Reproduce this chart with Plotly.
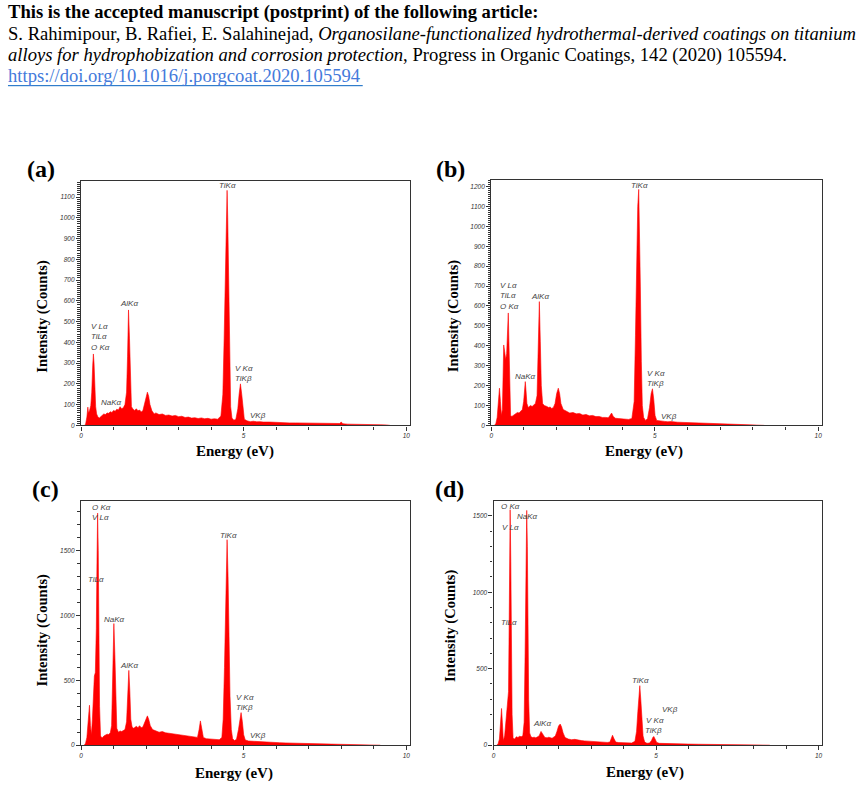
import plotly.graph_objects as go

W, H = 860, 790

# ---------------- data (energy in eV, intensity in counts) ----------------
spectrum_a = [
    (0.10, 0), (0.14, 5), (0.18, 40), (0.21, 88), (0.23, 60), (0.26, 70), (0.30, 95), (0.33, 160),
    (0.36, 290), (0.38, 344), (0.40, 300), (0.42, 190), (0.45, 90), (0.48, 55), (0.52, 40), (0.56, 35),
    (0.60, 42), (0.65, 48), (0.70, 55), (0.75, 52), (0.80, 60), (0.85, 58), (0.90, 66), (0.95, 62),
    (1.00, 72), (1.05, 68), (1.10, 78), (1.15, 74), (1.20, 90), (1.25, 80), (1.30, 85), (1.35, 100),
    (1.40, 160), (1.43, 330), (1.46, 556), (1.49, 420), (1.52, 180), (1.55, 90), (1.60, 78), (1.65, 72),
    (1.70, 80), (1.75, 70), (1.80, 74), (1.85, 65), (1.90, 70), (1.95, 100), (2.00, 140), (2.04, 160),
    (2.08, 140), (2.12, 100), (2.18, 70), (2.25, 55), (2.30, 60), (2.40, 52), (2.50, 55), (2.60, 48),
    (2.70, 50), (2.80, 45), (2.90, 48), (3.00, 42), (3.10, 44), (3.20, 38), (3.30, 40), (3.40, 35),
    (3.50, 37), (3.60, 33), (3.70, 36), (3.80, 32), (3.90, 34), (4.00, 30), (4.10, 32), (4.20, 30),
    (4.30, 45), (4.36, 150), (4.40, 420), (4.44, 800), (4.47, 1050), (4.49, 1132), (4.51, 1000), (4.54, 650),
    (4.57, 300), (4.60, 90), (4.64, 35), (4.70, 25), (4.76, 30), (4.82, 80), (4.86, 150), (4.90, 200),
    (4.94, 150), (4.98, 70), (5.02, 30), (5.10, 22), (5.20, 18), (5.30, 20), (5.40, 17), (5.50, 18),
    (5.60, 16), (5.80, 16), (6.00, 14), (6.20, 14), (6.40, 12), (6.60, 12), (6.80, 11), (7.00, 10),
    (7.20, 10), (7.40, 9), (7.60, 8), (7.80, 8), (7.95, 9), (8.00, 16), (8.05, 8), (8.20, 6),
    (8.40, 6), (8.60, 5), (8.80, 4), (9.00, 4), (9.20, 3), (9.40, 2), (9.50, 0),
]

spectrum_b = [
    (0.10, 0), (0.14, 10), (0.18, 40), (0.22, 120), (0.25, 187), (0.28, 120), (0.31, 50), (0.34, 80),
    (0.36, 250), (0.38, 404), (0.41, 370), (0.44, 330), (0.47, 360), (0.50, 480), (0.52, 565), (0.54, 420),
    (0.56, 150), (0.59, 50), (0.63, 45), (0.70, 55), (0.75, 60), (0.80, 65), (0.85, 62), (0.90, 72),
    (0.95, 80), (0.99, 120), (1.02, 190), (1.04, 220), (1.06, 180), (1.09, 110), (1.13, 90), (1.20, 100),
    (1.25, 95), (1.30, 105), (1.35, 110), (1.40, 150), (1.43, 330), (1.47, 622), (1.50, 420), (1.53, 200),
    (1.57, 110), (1.62, 100), (1.70, 95), (1.75, 90), (1.80, 92), (1.85, 85), (1.90, 90), (1.95, 110),
    (2.00, 160), (2.05, 187), (2.09, 160), (2.13, 110), (2.20, 80), (2.30, 70), (2.40, 62), (2.50, 65),
    (2.60, 58), (2.70, 60), (2.80, 52), (2.90, 55), (3.00, 48), (3.10, 50), (3.20, 44), (3.30, 45),
    (3.40, 40), (3.50, 40), (3.58, 38), (3.63, 50), (3.68, 62), (3.73, 45), (3.80, 36), (3.90, 34),
    (4.00, 33), (4.10, 32), (4.20, 30), (4.30, 35), (4.37, 120), (4.41, 450), (4.45, 850), (4.48, 1100),
    (4.51, 1186), (4.53, 1050), (4.56, 700), (4.59, 320), (4.62, 100), (4.66, 40), (4.72, 25), (4.78, 35),
    (4.84, 90), (4.89, 160), (4.93, 184), (4.97, 130), (5.01, 50), (5.06, 25), (5.15, 22), (5.30, 20),
    (5.40, 18), (5.50, 19), (5.70, 16), (5.90, 15), (6.10, 13), (6.30, 13), (6.50, 11), (6.70, 11),
    (6.90, 10), (7.10, 9), (7.30, 8), (7.50, 7), (7.70, 6), (7.90, 5), (8.10, 5), (8.30, 3), (8.35, 0),
]

spectrum_c = [
    (0.10, 0), (0.14, 15), (0.18, 60), (0.22, 180), (0.26, 308), (0.29, 150), (0.32, 80), (0.35, 200),
    (0.38, 420), (0.41, 533), (0.44, 560), (0.47, 900), (0.49, 1400), (0.51, 1790), (0.53, 1500), (0.55, 800),
    (0.57, 300), (0.60, 70), (0.65, 55), (0.70, 70), (0.75, 75), (0.80, 85), (0.85, 82), (0.90, 95),
    (0.94, 150), (0.98, 500), (1.01, 938), (1.04, 700), (1.07, 300), (1.10, 130), (1.15, 100), (1.20, 110),
    (1.25, 105), (1.30, 115), (1.35, 120), (1.40, 180), (1.43, 350), (1.47, 577), (1.50, 420), (1.53, 200),
    (1.57, 140), (1.62, 130), (1.70, 145), (1.75, 135), (1.80, 150), (1.85, 135), (1.90, 140), (1.95, 170),
    (2.00, 210), (2.04, 226), (2.08, 200), (2.13, 150), (2.20, 120), (2.30, 110), (2.40, 100), (2.50, 105),
    (2.60, 95), (2.70, 92), (2.80, 88), (2.90, 85), (3.00, 80), (3.10, 78), (3.20, 72), (3.30, 72),
    (3.40, 65), (3.50, 62), (3.58, 60), (3.63, 120), (3.67, 187), (3.71, 130), (3.76, 60), (3.85, 50),
    (3.95, 48), (4.05, 45), (4.15, 44), (4.25, 42), (4.33, 60), (4.37, 200), (4.41, 600), (4.45, 1150),
    (4.49, 1585), (4.52, 1300), (4.55, 800), (4.58, 380), (4.62, 120), (4.66, 50), (4.72, 35), (4.78, 45),
    (4.84, 120), (4.89, 220), (4.92, 251), (4.96, 180), (5.00, 80), (5.05, 40), (5.15, 32), (5.30, 30),
    (5.40, 28), (5.50, 26), (5.70, 24), (5.90, 21), (6.10, 19), (6.30, 17), (6.50, 15), (6.70, 14),
    (6.90, 12), (7.10, 11), (7.30, 10), (7.50, 9), (7.70, 8), (7.90, 7), (8.10, 6), (8.40, 5),
    (8.70, 4), (9.00, 3), (9.20, 0),
]

spectrum_d = [
    (0.10, 0), (0.14, 10), (0.18, 40), (0.22, 150), (0.245, 240), (0.27, 150), (0.30, 30), (0.34, 60),
    (0.38, 150), (0.42, 220), (0.46, 350), (0.48, 800), (0.50, 1350), (0.51, 1540), (0.53, 1200), (0.55, 600),
    (0.57, 200), (0.60, 45), (0.65, 40), (0.70, 55), (0.75, 50), (0.80, 58), (0.85, 55), (0.90, 62),
    (0.94, 150), (0.97, 600), (1.00, 1250), (1.02, 1535), (1.04, 1300), (1.06, 700), (1.08, 300), (1.11, 80),
    (1.15, 55), (1.20, 50), (1.25, 52), (1.30, 48), (1.35, 55), (1.40, 60), (1.46, 90), (1.52, 65),
    (1.58, 50), (1.65, 48), (1.70, 52), (1.80, 45), (1.85, 50), (1.90, 60), (1.95, 90), (2.00, 125),
    (2.05, 138), (2.09, 120), (2.14, 80), (2.20, 50), (2.30, 40), (2.40, 36), (2.50, 38), (2.60, 32),
    (2.70, 30), (2.80, 28), (2.90, 26), (3.00, 25), (3.10, 22), (3.20, 22), (3.30, 20), (3.40, 20),
    (3.50, 18), (3.58, 20), (3.63, 45), (3.66, 65), (3.70, 45), (3.76, 20), (3.85, 17), (3.95, 16),
    (4.05, 15), (4.15, 14), (4.25, 14), (4.35, 25), (4.40, 90), (4.44, 220), (4.48, 340), (4.50, 389),
    (4.53, 300), (4.56, 170), (4.60, 60), (4.65, 20), (4.72, 12), (4.80, 14), (4.86, 30), (4.90, 50),
    (4.93, 57), (4.97, 40), (5.02, 18), (5.10, 12), (5.30, 10), (5.50, 9), (5.70, 8), (6.00, 7),
    (6.30, 6), (6.60, 5), (7.00, 4), (7.40, 3), (7.80, 3), (8.20, 2), (8.50, 0),
]

# peak labels: (text, energy, counts, xanchor)
labels_a = [
    ("TiKα", 4.51, 1153, "center"), ("AlKα", 1.47, 589, "center"),
    ("V Lα<br>TiLα<br>O Kα", 0.23, 426, "left"), ("NaKα", 0.94, 112, "center"),
    ("V Kα<br>TiKβ", 4.68, 250, "left"), ("VKβ", 5.44, 48, "center"),
]
labels_b = [
    ("TiKα", 4.52, 1206, "center"), ("V Lα<br>TiLα<br>O Kα", 0.22, 649, "left"),
    ("AlKα", 1.49, 649, "center"), ("NaKα", 1.04, 248, "center"),
    ("V Kα<br>TiKβ", 4.70, 238, "left"), ("VKβ", 5.44, 45, "center"),
]
labels_c = [
    ("O Kα<br>V Lα", 0.27, 1792, "left"), ("TiLα", 0.45, 1277, "center"),
    ("NaKα", 1.04, 969, "center"), ("AlKα", 1.47, 611, "center"),
    ("TiKα", 4.53, 1618, "center"), ("V Kα<br>TiKβ", 4.71, 331, "left"),
    ("VKβ", 5.45, 77, "center"),
]
labels_d = [
    ("O Kα", 0.51, 1563, "center"), ("NaKα", 1.04, 1496, "center"),
    ("V Lα", 0.51, 1426, "center"), ("TiLα", 0.46, 802, "center"),
    ("AlKα", 1.48, 142, "center"), ("TiKα", 4.52, 422, "center"),
    ("VKβ", 5.44, 236, "center"), ("V Kα", 4.96, 164, "center"),
    ("TiKβ", 4.93, 94, "center"),
]

panel_letters = ["(a)", "(b)", "(c)", "(d)"]

header_lines = [
    "<b>This is the accepted manuscript (postprint) of the following article:</b>",
    "S. Rahimipour, B. Rafiei, E. Salahinejad, <i>Organosilane-functionalized hydrothermal-derived coatings on titanium</i>",
    "<i>alloys for hydrophobization and corrosion protection</i>, Progress in Organic Coatings, 142 (2020) 105594.",
]
doi_url = "https://doi.org/10.1016/j.porgcoat.2020.105594"

# ---------------- layout geometry (pixels) ----------------
def fx(p):
    return p / W


def fy(p):
    return 1 - p / H


panels = [
    dict(spec=spectrum_a, labels=labels_a, x0=79.3, x1=409, yt=181.7, yb=427, xmax=10.1, ymax=1177, dmaj=100, dmin=10,
         letter=(39, 170), ytitle=(41, 317), xtitle=(233.5, 453)),
    dict(spec=spectrum_b, labels=labels_b, x0=491, x1=823, yt=180.7, yb=427, xmax=10.12, ymax=1233, dmaj=100, dmin=10,
         letter=(450, 170), ytitle=(453, 317), xtitle=(644, 453)),
    dict(spec=spectrum_c, labels=labels_c, x0=79.3, x1=409, yt=502.7, yb=748, xmax=10.1, ymax=1885, dmaj=500, dmin=100,
         letter=(44, 491), ytitle=(41, 632), xtitle=(233, 776)),
    dict(spec=spectrum_d, labels=labels_d, x0=493.3, x1=823.3, yt=503.3, yb=748, xmax=10.12, ymax=1594, dmaj=500, dmin=100,
         letter=(449, 491), ytitle=(450, 628), xtitle=(645, 775)),
]

fig = go.Figure()
annotations = []
tickfont = dict(family="Liberation Sans", size=6.5, color="#333", style="italic")
labfont = dict(family="Liberation Sans", size=8, color="#444", style="italic")
axcol = "#333"

for i, p in enumerate(panels):
    n = "" if i == 0 else str(i + 1)
    E = [e for e, c in p["spec"]]
    C = [c for e, c in p["spec"]]
    fig.add_trace(go.Scatter(
        x=E, y=C, mode="lines", fill="tozeroy", fillcolor="#FF0000",
        line=dict(color="#FF0000", width=0.6), xaxis="x" + n, yaxis="y" + n,
        hoverinfo="skip", showlegend=False,
    ))
    fig.layout["xaxis" + n] = dict(
        domain=[fx(p["x0"]), fx(p["x1"])], anchor="y" + n, range=[0, p["xmax"]],
        tickmode="linear", tick0=0, dtick=5, ticks="outside", ticklen=4, tickcolor=axcol,
        tickfont=tickfont, showgrid=False, zeroline=False,
        showline=True, linecolor=axcol, linewidth=1.3, mirror=True,
        minor=dict(tickmode="linear", tick0=0, dtick=1, ticks="outside", ticklen=3, tickcolor=axcol, showgrid=False),
    )
    fig.layout["yaxis" + n] = dict(
        domain=[fy(p["yb"]), fy(p["yt"])], anchor="x" + n, range=[0, p["ymax"]],
        tickmode="linear", tick0=0, dtick=p["dmaj"], ticks="outside", ticklen=4, tickcolor=axcol,
        tickfont=tickfont, showgrid=False, zeroline=False,
        showline=True, linecolor=axcol, linewidth=1.3, mirror=True,
        minor=dict(tickmode="linear", tick0=0, dtick=p["dmin"], ticks="outside", ticklen=2.5, tickcolor=axcol, showgrid=False),
    )
    for text, e, c, xa in p["labels"]:
        annotations.append(dict(
            text=text, x=e, y=c, xref="x" + n, yref="y" + n, xanchor=xa, yanchor="middle",
            showarrow=False, font=labfont, align="left",
        ))
    lx, ly = p["letter"]
    annotations.append(dict(
        text="<b>" + panel_letters[i] + "</b>", x=fx(lx), y=fy(ly), xref="paper", yref="paper",
        xanchor="center", yanchor="middle", showarrow=False,
        font=dict(family="Liberation Serif", size=24, color="black"),
    ))
    tx, ty = p["ytitle"]
    annotations.append(dict(
        text="<b>Intensity (Counts)</b>", x=fx(tx), y=fy(ty), xref="paper", yref="paper",
        xanchor="center", yanchor="middle", textangle=-90, showarrow=False,
        font=dict(family="Liberation Serif", size=14.5, color="black"),
    ))
    ex, ey = p["xtitle"]
    annotations.append(dict(
        text="<b>Energy (eV)</b>", x=fx(ex), y=fy(ey), xref="paper", yref="paper",
        xanchor="center", yanchor="middle", showarrow=False,
        font=dict(family="Liberation Serif", size=15, color="black"),
    ))

# header
HFS = 18.6
header_y = [12, 34, 55]
for txt, yy in zip(header_lines, header_y):
    annotations.append(dict(
        text=txt, x=fx(4), y=fy(yy), xref="paper", yref="paper", xanchor="left", yanchor="middle",
        showarrow=False, font=dict(family="Liberation Serif", size=HFS, color="black"),
    ))
annotations.append(dict(
    text=f"<a href='{doi_url}'>{doi_url}</a>", x=fx(4), y=fy(76), xref="paper", yref="paper",
    xanchor="left", yanchor="middle", showarrow=False,
    font=dict(family="Liberation Serif", size=HFS, color="#0563C1"),
))

fig.update_layout(
    width=W, height=H, margin=dict(l=0, r=0, t=0, b=0),
    paper_bgcolor="white", plot_bgcolor="white",
    annotations=annotations,
    shapes=[dict(type="line", xref="paper", yref="paper", x0=fx(6), x1=fx(362), y0=fy(86), y1=fy(86),
                 line=dict(color="#0563C1", width=1))],
)

fig.write_html("out.html")
